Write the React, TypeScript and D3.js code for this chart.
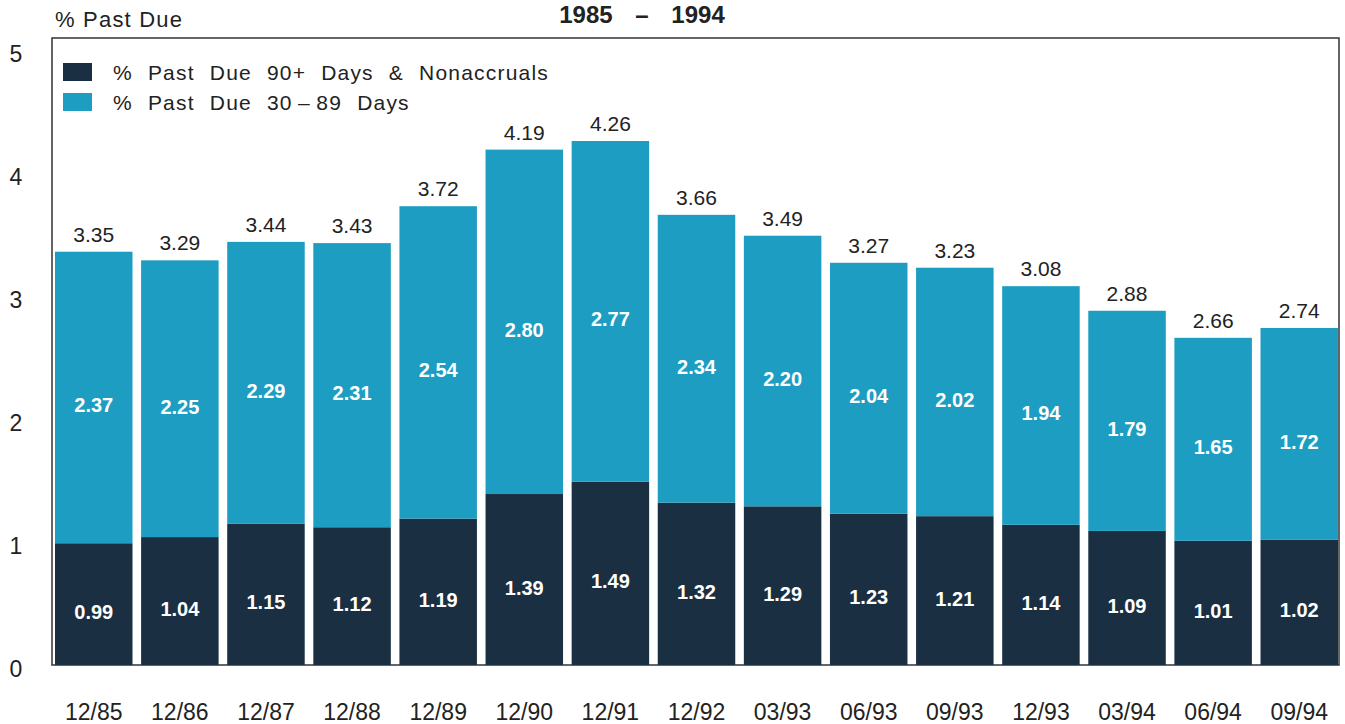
import * as d3 from "d3";

const periods = ["12/85", "12/86", "12/87", "12/88", "12/89", "12/90", "12/91", "12/92", "03/93", "06/93", "09/93", "12/93", "03/94", "06/94", "09/94"];
const pastDue90 = [0.99, 1.04, 1.15, 1.12, 1.19, 1.39, 1.49, 1.32, 1.29, 1.23, 1.21, 1.14, 1.09, 1.01, 1.02];
const pastDue30 = [2.37, 2.25, 2.29, 2.31, 2.54, 2.8, 2.77, 2.34, 2.2, 2.04, 2.02, 1.94, 1.79, 1.65, 1.72];
const totals = [3.35, 3.29, 3.44, 3.43, 3.72, 4.19, 4.26, 3.66, 3.49, 3.27, 3.23, 3.08, 2.88, 2.66, 2.74];
const yTicks = [0, 1, 2, 3, 4, 5];
const legendLabels = ["% Past Due 90+ Days & Nonaccruals", "% Past Due 30\u2009\u2013\u200989 Days"];

const DARK = "#1b2f42";
const TEAL = "#1c9dc1";
const INK = "#222";
const FONT = "'Liberation Sans', Arial, Helvetica, sans-serif";

export default function App() {
  const width = 1345;
  const height = 724;
  const frame = { left: 52, right: 1339, top: 38, bottom: 665 };

  const x = d3.scaleBand().domain(periods).range([55, 1338]).paddingInner(0.1).paddingOuter(0);
  const y = d3.scaleLinear().domain([0, 5]).range([frame.bottom, 50]);

  const rows = periods.map((p, i) => ({ period: p, low: pastDue90[i], high: pastDue30[i] }));
  const stack = d3.stack<any>().keys(["low", "high"])(rows);
  const colors = [DARK, TEAL];

  return (
    <svg width={width} height={height} style={{ position: "absolute", left: 0, top: 0, background: "#fff" }} fontFamily={FONT}>
      <rect x={0} y={0} width={width} height={height} fill="#fff" />
      {/* title fragment and axis caption */}
      <text x={642} y={23} textAnchor="middle" fontSize={24} fontWeight="bold" fill={INK} wordSpacing={16}>
        1985 – 1994
      </text>
      <text x={55} y={27} fontSize={22} fill={INK} letterSpacing={1.2}>
        % Past Due
      </text>

      {/* frame */}
      <rect
        x={frame.left}
        y={frame.top}
        width={frame.right - frame.left}
        height={frame.bottom - frame.top}
        fill="none"
        stroke="#333"
        strokeWidth={1.5}
      />

      {yTicks.map((t) => (
        <text key={t} x={16} y={y(t) + 12} textAnchor="middle" fontSize={23} fill={INK}>
          {t}
        </text>
      ))}

      {stack.map((layer, li) =>
        layer.map((d, i) => (
          <rect
            key={`${li}-${i}`}
            x={x(periods[i])}
            y={y(d[1])}
            width={x.bandwidth()}
            height={y(d[0]) - y(d[1])}
            fill={colors[li]}
          />
        ))
      )}

      {stack.map((layer, li) =>
        layer.map((d, i) => (
          <text
            key={`l${li}-${i}`}
            x={(x(periods[i]) ?? 0) + x.bandwidth() / 2}
            y={(y(d[0]) + y(d[1])) / 2 + 15}
            textAnchor="middle"
            fontSize={20}
            fontWeight="bold"
            fill="#fff"
          >
            {(li === 0 ? pastDue90[i] : pastDue30[i]).toFixed(2)}
          </text>
        ))
      )}

      {totals.map((t, i) => (
        <text
          key={`t${i}`}
          x={(x(periods[i]) ?? 0) + x.bandwidth() / 2}
          y={y(pastDue90[i] + pastDue30[i]) - 10}
          textAnchor="middle"
          fontSize={21}
          fill={INK}
        >
          {t.toFixed(2)}
        </text>
      ))}

      {periods.map((p) => (
        <text key={p} x={(x(p) ?? 0) + x.bandwidth() / 2} y={720} textAnchor="middle" fontSize={23} fill={INK}>
          {p}
        </text>
      ))}

      {/* legend */}
      {legendLabels.map((label, i) => (
        <g key={label} transform={`translate(63,${63 + i * 30})`}>
          <rect x={0} y={0} width={29} height={18} fill={colors[i]} />
          <text x={50} y={17} fontSize={21} fill={INK} letterSpacing={1.2} wordSpacing={8} style={{ whiteSpace: "pre" }}>
            {label}
          </text>
        </g>
      ))}
    </svg>
  );
}
